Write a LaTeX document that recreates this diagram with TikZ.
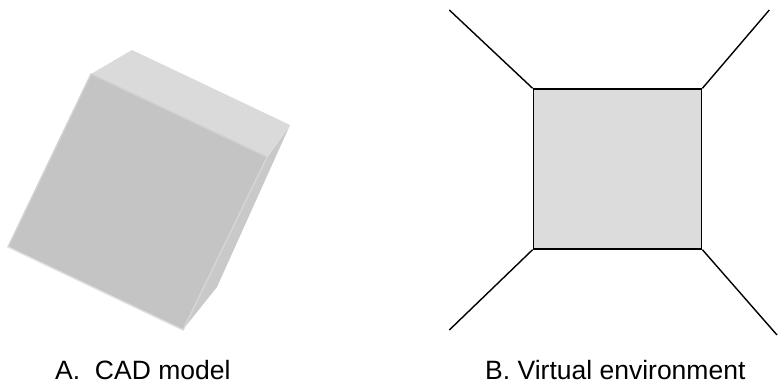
\documentclass[tikz,border=0pt]{standalone}
\usepackage{fontspec}
\setmainfont{Liberation Sans}
\begin{document}
\begin{tikzpicture}[x=1pt,y=-1pt,
  caption/.style={anchor=base west,inner sep=0pt,font=\fontsize{26.5}{30}\selectfont},
  wall/.style={draw=black,line width=1.4pt},
  room/.style={wall,fill=roomgray,rectangle,inner sep=0pt,minimum width=168.4pt,minimum height=160pt},
  edgehi/.style={line width=1.4pt,line cap=round}]
\definecolor{topgray}{HTML}{DADADA}
\definecolor{frontgray}{HTML}{C4C4C4}
\definecolor{sidegray}{HTML}{C9C9C9}
\definecolor{roomgray}{HTML}{DCDCDC}
\useasboundingbox (0,0) rectangle (778,383);

% --- CAD model: shaded block ---
\fill[topgray] (91,74) -- (132,50) -- (290,125) -- (267,157) -- cycle;
\fill[sidegray] (267,157) -- (290,125) -- (217,287) -- (185,327) -- (183,330) -- cycle;
\fill[frontgray] (91,74) -- (267,157) -- (183,330) -- (8,247) -- cycle;
\draw[edgehi,draw=frontgray!80!white] (91,74) -- (267,157);
\draw[edgehi,draw=frontgray!75!white] (91,74) -- (8,247);
\draw[edgehi,draw=frontgray!70!white] (267,157) -- (183,330);
\draw[edgehi,draw=white!88!black] (8,247) -- (183,330);
\draw[line width=0.8pt,draw=topgray!90!white] (290,125) -- (267,157);

% --- Virtual environment: room seen from inside ---
\node[room] (back) at (617.5,169) {};
\coordinate (tl) at (449.3,10);
\coordinate (tr) at (769.3,10);
\coordinate (bl) at (449.3,330);
\coordinate (br) at (777,335);
\draw[wall] (tl) -- (back.north west);
\draw[wall] (tr) -- (back.north east);
\draw[wall] (bl) -- (back.south west);
\draw[wall] (br) -- (back.south east);

% --- captions ---
\node[caption] (capA) at (55,379) {A.\ \ CAD model};
\node[caption] (capB) at (485,379) {B. Virtual environment};
\end{tikzpicture}
\end{document}
